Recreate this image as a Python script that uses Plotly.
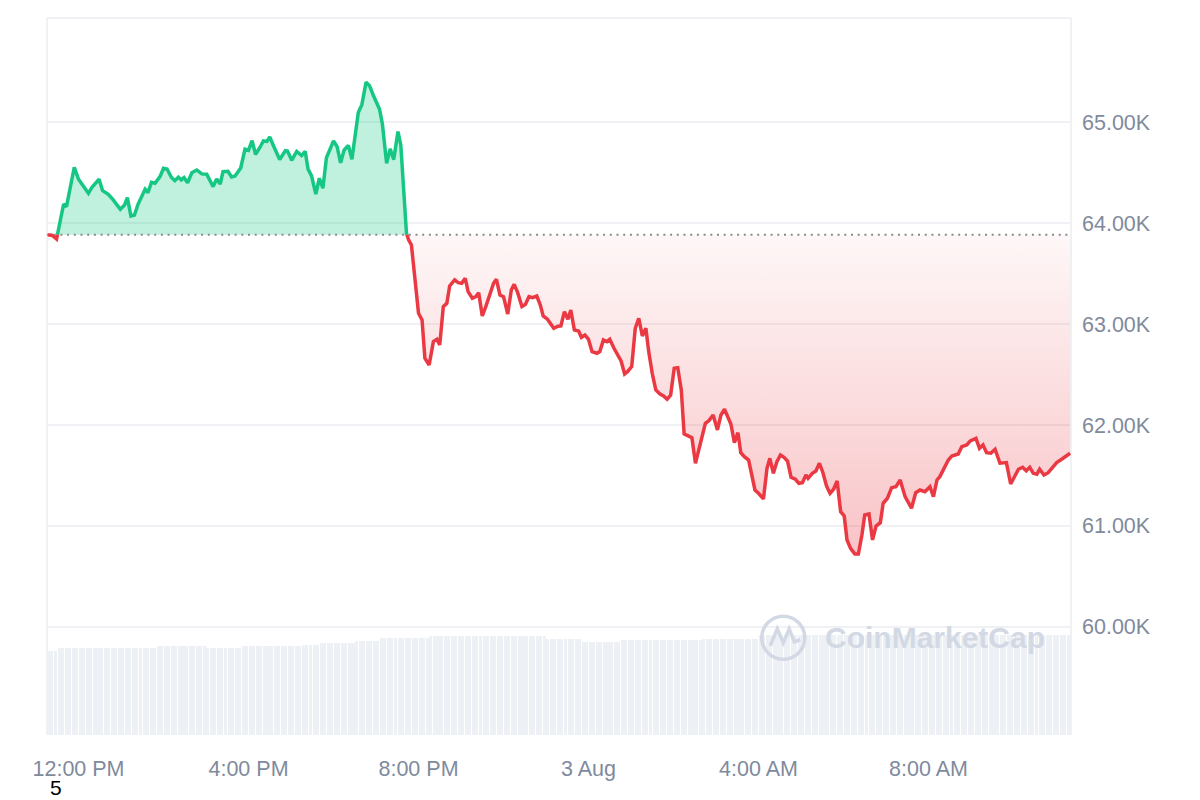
import numpy as np
import pandas as pd
import plotly.graph_objects as go

# ---------------- data ----------------
NOON = pd.Timestamp("2024-08-02 12:00")
reference_price = 63886  # opening price of the 24h window (dotted line)

minutes_from_noon = [
    -43, -37, -31, -26, -21, -17, -12, -6, 0, 7,
    14, 19, 29, 34, 42, 49, 59, 65, 69, 74,
    79, 84, 94, 98, 103, 108, 115, 120, 125, 131,
    136, 141, 145, 149, 154, 160, 167, 174, 181, 190,
    195, 200, 204, 211, 216, 221, 229, 235, 240, 245,
    250, 256, 261, 266, 270, 276, 284, 292, 295, 301,
    308, 315, 320, 324, 329, 335, 340, 345, 350, 360,
    365, 370, 375, 381, 386, 395, 400, 406, 411, 416,
    425, 429, 435, 440, 445, 451, 455, 463, 466, 470,
    480, 485, 489, 495, 501, 506, 510, 515, 520, 524,
    531, 536, 541, 546, 550, 556, 561, 565, 570, 575,
    581, 586, 590, 595, 600, 606, 611, 615, 620, 626,
    631, 636, 641, 647, 652, 656, 662, 667, 671, 677,
    681, 686, 691, 695, 700, 706, 710, 715, 720, 725,
    732, 736, 741, 746, 750, 756, 762, 766, 771, 775,
    781, 786, 791, 796, 801, 805, 810, 815, 821, 826,
    831, 836, 841, 846, 851, 855, 860, 866, 871, 876,
    881, 885, 890, 896, 902, 907, 912, 917, 921, 926,
    931, 935, 940, 946, 950, 955, 960, 967, 972, 976,
    981, 986, 991, 996, 1001, 1006, 1012, 1017, 1022, 1027,
    1030, 1036, 1041, 1046, 1051, 1056, 1061, 1066, 1071, 1076,
    1081, 1085, 1090, 1096, 1101, 1106, 1110, 1116, 1121, 1126,
    1132, 1136, 1142, 1148, 1154, 1160, 1167, 1176, 1182, 1188,
    1195, 1202, 1207, 1212, 1216, 1221, 1228, 1233, 1242, 1247,
    1254, 1259, 1267, 1272, 1277, 1282, 1288, 1294, 1301, 1310,
    1316, 1327, 1333, 1338, 1343, 1348, 1353, 1357, 1363, 1369,
    1375, 1381, 1388, 1394, 1400,
]

price_usd = [
    63886, 63878, 63843, 64015, 64190, 64164, 64362, 64554, 64435, 64362,
    64296, 64356, 64435, 64322, 64286, 64230, 64138, 64180, 64253, 64071,
    64081, 64187, 64336, 64302, 64405, 64395, 64461, 64544, 64537, 64455,
    64421, 64455, 64428, 64451, 64401, 64500, 64527, 64488, 64485, 64362,
    64438, 64388, 64510, 64514, 64458, 64468, 64547, 64732, 64722, 64818,
    64681, 64750, 64815, 64810, 64854, 64755, 64631, 64718, 64714, 64623,
    64711, 64670, 64712, 64537, 64468, 64289, 64445, 64346, 64648, 64815,
    64760, 64597, 64725, 64770, 64633, 65097, 65174, 65397, 65360, 65270,
    65129, 64983, 64592, 64737, 64630, 64907, 64775, 63900, 63834, 63784,
    63107, 63041, 62661, 62595, 62826, 62849, 62793, 63173, 63206, 63378,
    63437, 63410, 63404, 63454, 63321, 63256, 63272, 63311, 63080, 63173,
    63288, 63404, 63444, 63288, 63272, 63100, 63338, 63394, 63311, 63173,
    63196, 63272, 63262, 63278, 63189, 63080, 63048, 62991, 62958, 62978,
    62981, 63123, 63048, 63140, 62942, 62932, 62869, 62892, 62849, 62727,
    62711, 62727, 62842, 62826, 62849, 62760, 62677, 62634, 62506, 62528,
    62578, 62958, 63058, 62882, 62958, 62727, 62512, 62347, 62307, 62288,
    62255, 62297, 62562, 62568, 62347, 61911, 61894, 61874, 61621, 61752,
    61891, 62017, 62043, 62099, 61951, 62099, 62156, 62079, 62010, 61825,
    61924, 61726, 61686, 61653, 61505, 61356, 61323, 61267, 61571, 61670,
    61521, 61636, 61703, 61680, 61643, 61482, 61462, 61422, 61428, 61505,
    61472, 61521, 61544, 61621, 61527, 61396, 61323, 61363, 61445, 61141,
    61098, 60861, 60778, 60722, 60722, 60910, 61108, 61118, 60861, 60999,
    61032, 61224, 61274, 61379, 61389, 61455, 61290, 61175, 61329, 61356,
    61339, 61389, 61290, 61455, 61488, 61554, 61653, 61693, 61713, 61785,
    61802, 61842, 61868, 61769, 61802, 61726, 61720, 61759, 61621, 61627,
    61415, 61561, 61581, 61547, 61581, 61521, 61512, 61561, 61505, 61527,
    61571, 61627, 61660, 61686, 61720,
]

# 5-minute volume bars (relative heights, in B USD)
volume_first_bar = "2024-08-02 11:17:30"
volume_busd = [
    32.9, 32.9, 32.9, 33.9, 33.9, 33.9, 33.9, 33.9, 33.9, 33.9, 33.9, 33.9,
    33.9, 33.9, 33.9, 33.9, 33.9, 33.9, 33.9, 33.9, 33.9, 33.9, 33.9, 33.9,
    33.9, 33.9, 33.9, 33.9, 33.9, 33.9, 33.9, 34.6, 34.6, 34.6, 34.6, 34.6,
    34.6, 34.6, 34.6, 34.6, 34.6, 34.6, 34.6, 34.6, 34.6, 33.9, 33.9, 33.9,
    33.9, 33.9, 33.9, 33.9, 33.9, 33.9, 33.9, 34.6, 34.6, 34.6, 34.6, 34.6,
    34.6, 34.6, 34.6, 34.6, 34.6, 34.6, 34.6, 34.6, 34.6, 34.6, 34.6, 34.6,
    35.1, 35.1, 35.1, 35.1, 35.1, 35.9, 35.9, 35.9, 35.9, 35.9, 35.9, 35.9,
    35.9, 35.9, 35.9, 36.7, 36.7, 36.7, 36.7, 36.7, 36.7, 36.7, 37.9, 37.9,
    37.9, 37.9, 37.9, 37.9, 37.9, 37.9, 37.9, 37.9, 37.9, 37.9, 37.9, 37.9,
    38.5, 38.5, 38.5, 38.5, 38.5, 38.5, 38.5, 38.5, 38.5, 38.5, 38.5, 38.5,
    38.5, 38.5, 38.5, 38.5, 38.5, 38.5, 38.5, 38.5, 38.5, 38.5, 38.5, 38.5,
    38.5, 38.5, 38.5, 38.5, 38.5, 38.5, 38.5, 38.5, 38.5, 37.5, 37.5, 37.5,
    37.5, 37.5, 37.5, 37.5, 37.5, 37.5, 37.5, 36.5, 36.5, 36.5, 36.5, 36.5,
    36.5, 36.5, 36.5, 36.5, 36.5, 36.5, 37.1, 37.1, 37.1, 37.1, 37.1, 37.1,
    37.1, 37.1, 37.1, 37.1, 37.1, 37.1, 37.1, 37.1, 37.1, 37.1, 37.1, 37.1,
    37.1, 37.1, 37.1, 37.1, 37.1, 37.3, 37.3, 37.3, 37.3, 37.3, 37.3, 37.3,
    37.3, 37.3, 37.3, 37.3, 37.3, 37.3, 37.3, 37.3, 37.3, 39.2, 39.2, 39.2,
    39.2, 39.2, 39.2, 39.2, 39.2, 39.2, 39.2, 39.2, 39.2, 39.2, 39.2, 39.2,
    39.2, 39.2, 39.2, 39.2, 39.2, 39.2, 39.2, 39.2, 39.2, 39.2, 39.2, 39.2,
    39.2, 39.2, 39.2, 39.2, 39.2, 39.2, 39.2, 39.2, 39.2, 39.2, 39.2, 39.2,
    39.2, 39.2, 39.2, 39.2, 39.2, 39.2, 39.2, 39.2, 39.2, 39.2, 39.2, 39.2,
    39.2, 39.2, 39.2, 39.2, 39.2, 39.2, 39.2, 39.2, 39.2, 39.2, 39.2, 39.2,
    39.2, 39.2, 39.2, 39.2, 39.2, 39.2, 39.2, 39.2, 39.2, 39.2, 39.2, 39.2,
    39.2, 39.2, 39.2, 39.2, 39.2, 39.2, 39.2, 39.2, 39.2, 39.2, 39.2, 39.2,
    39.2,
]

y_tick_values = [60000, 61000, 62000, 63000, 64000, 65000]
y_tick_labels = ["60.00K", "61.00K", "62.00K", "63.00K", "64.00K", "65.00K"]
x_tick_times = ["2024-08-02 12:00", "2024-08-02 16:00", "2024-08-02 20:00",
                "2024-08-03 00:00", "2024-08-03 04:00", "2024-08-03 08:00"]
x_tick_labels = ["12:00 PM", "4:00 PM", "8:00 PM", "3 Aug", "4:00 AM", "8:00 AM"]

# ---------------- styling ----------------
GREEN = "#16c784"
RED = "#ea3943"
GRID = "#eff1f4"
TICK = "#808a9d"
FONT = "Liberation Sans, Arial, sans-serif"
X_START, X_END = "2024-08-02 11:15:30", "2024-08-03 11:21:12"

# ---------------- split at the reference price ----------------
t = list(minutes_from_noon)
p = list(price_usd)
base = reference_price
xs, ys = [t[0]], [p[0]]
for i in range(1, len(t)):
    a, b = p[i - 1] - base, p[i] - base
    if a * b < 0:
        f = a / (a - b)
        xs.append(t[i - 1] + f * (t[i] - t[i - 1]))
        ys.append(base)
    xs.append(t[i])
    ys.append(p[i])

times = NOON + pd.to_timedelta(np.array(xs), unit="m")
ys = np.array(ys, dtype=float)
up_fill = np.maximum(ys, base)
down_fill = np.minimum(ys, base)
up_line = [v if v >= base else None for v in ys]
down_line = [v if v <= base else None for v in ys]
base_arr = np.full(len(ys), base, dtype=float)

bar_times = pd.date_range(volume_first_bar, periods=len(volume_busd), freq="5min")

fig = go.Figure()

fig.add_trace(go.Scatter(x=times, y=base_arr, mode="lines", line=dict(width=0),
                         hoverinfo="skip"))
fig.add_trace(go.Scatter(x=times, y=up_fill, mode="lines", line=dict(width=0),
                         fill="tonexty", fillcolor="rgba(22,199,132,0.27)",
                         hoverinfo="skip"))
fig.add_trace(go.Scatter(x=times, y=base_arr, mode="lines", line=dict(width=0),
                         hoverinfo="skip"))
fig.add_trace(go.Scatter(x=times, y=down_fill, mode="lines", line=dict(width=0),
                         fill="tonexty",
                         fillgradient=dict(type="vertical",
                                           colorscale=[[0, "rgba(234,57,67,0.30)"],
                                                       [1, "rgba(234,57,67,0.04)"]],
                                           start=min(price_usd), stop=base),
                         hoverinfo="skip"))
# dotted reference line
fig.add_trace(go.Scatter(x=[pd.Timestamp(X_START), pd.Timestamp(X_END)],
                         y=[base, base], mode="lines",
                         line=dict(color="#8a8a8a", width=2, dash="2px,4.7px"),
                         hoverinfo="skip"))
fig.add_trace(go.Scatter(x=times, y=up_line, mode="lines",
                         line=dict(color=GREEN, width=3.5, shape="linear"),
                         connectgaps=False))
fig.add_trace(go.Scatter(x=times, y=down_line, mode="lines",
                         line=dict(color=RED, width=3.5, shape="linear"),
                         connectgaps=False))
# volume bars on an overlaid hidden axis
fig.add_trace(go.Bar(x=bar_times, y=volume_busd, yaxis="y2",
                     marker=dict(color="#edf0f4", line=dict(width=0)),
                     width=5 * 60 * 1000 * 0.86, hoverinfo="skip"))

# the page body has an 8px margin, so the figure is 8px smaller than the window
fig.update_layout(
    width=1192, height=792,
    margin=dict(l=39, r=129, t=10, b=65),
    paper_bgcolor="white", plot_bgcolor="white",
    showlegend=False,
    bargap=0,
    xaxis=dict(
        type="date",
        range=[X_START, X_END],
        showgrid=False, zeroline=False, showline=False,
        tickmode="array", tickvals=x_tick_times, ticktext=x_tick_labels,
        ticks="", ticklabelstandoff=18,
        tickfont=dict(family=FONT, size=21.5, color=TICK),
    ),
    yaxis=dict(
        range=[58928, 66033],
        side="right",
        tickmode="array", tickvals=y_tick_values, ticktext=y_tick_labels,
        showgrid=True, gridcolor=GRID, gridwidth=2,
        zeroline=False, showline=False, ticks="", ticklabelstandoff=10,
        tickfont=dict(family=FONT, size=21.5, color=TICK),
    ),
    yaxis2=dict(overlaying="y", range=[0, 280], visible=False),
    shapes=[
        dict(type="line", xref="paper", yref="paper", x0=0, x1=0, y0=0, y1=1,
             line=dict(color=GRID, width=2), layer="below"),
        dict(type="line", xref="paper", yref="paper", x0=1, x1=1, y0=0, y1=1,
             line=dict(color=GRID, width=2), layer="below"),
        dict(type="line", xref="paper", yref="paper", x0=0, x1=1, y0=1, y1=1,
             line=dict(color=GRID, width=2), layer="below"),
        # watermark logo ring
        dict(type="circle", xref="paper", yref="paper",
             xsizemode="pixel", ysizemode="pixel",
             xanchor=0.7190, yanchor=0.1356, x0=-21.5, x1=21.5, y0=-21.5, y1=21.5,
             line=dict(color="#d3d9e4", width=3.5), layer="above"),
        dict(type="path", xref="paper", yref="paper",
             xsizemode="pixel", ysizemode="pixel",
             xanchor=0.7190, yanchor=0.1356,
             path="M -13,-8 L -6,9 L 0,-5 L 6,9 L 11,-4 L 17,-2",
             line=dict(color="#d3d9e4", width=3.5), layer="above"),
    ],
    annotations=[
        dict(text="CoinMarketCap", xref="paper", yref="paper", x=0.7578, y=0.1353,
             xanchor="left", yanchor="middle", showarrow=False,
             font=dict(family=FONT, size=30, color="#d3d9e4", weight=700)),
        dict(text="5", xref="paper", yref="paper", x=0.0088, y=-0.0739,
             xanchor="center", yanchor="middle", showarrow=False,
             font=dict(family=FONT, size=21, color="#000000")),
    ],
)

fig.write_html("out.html")
